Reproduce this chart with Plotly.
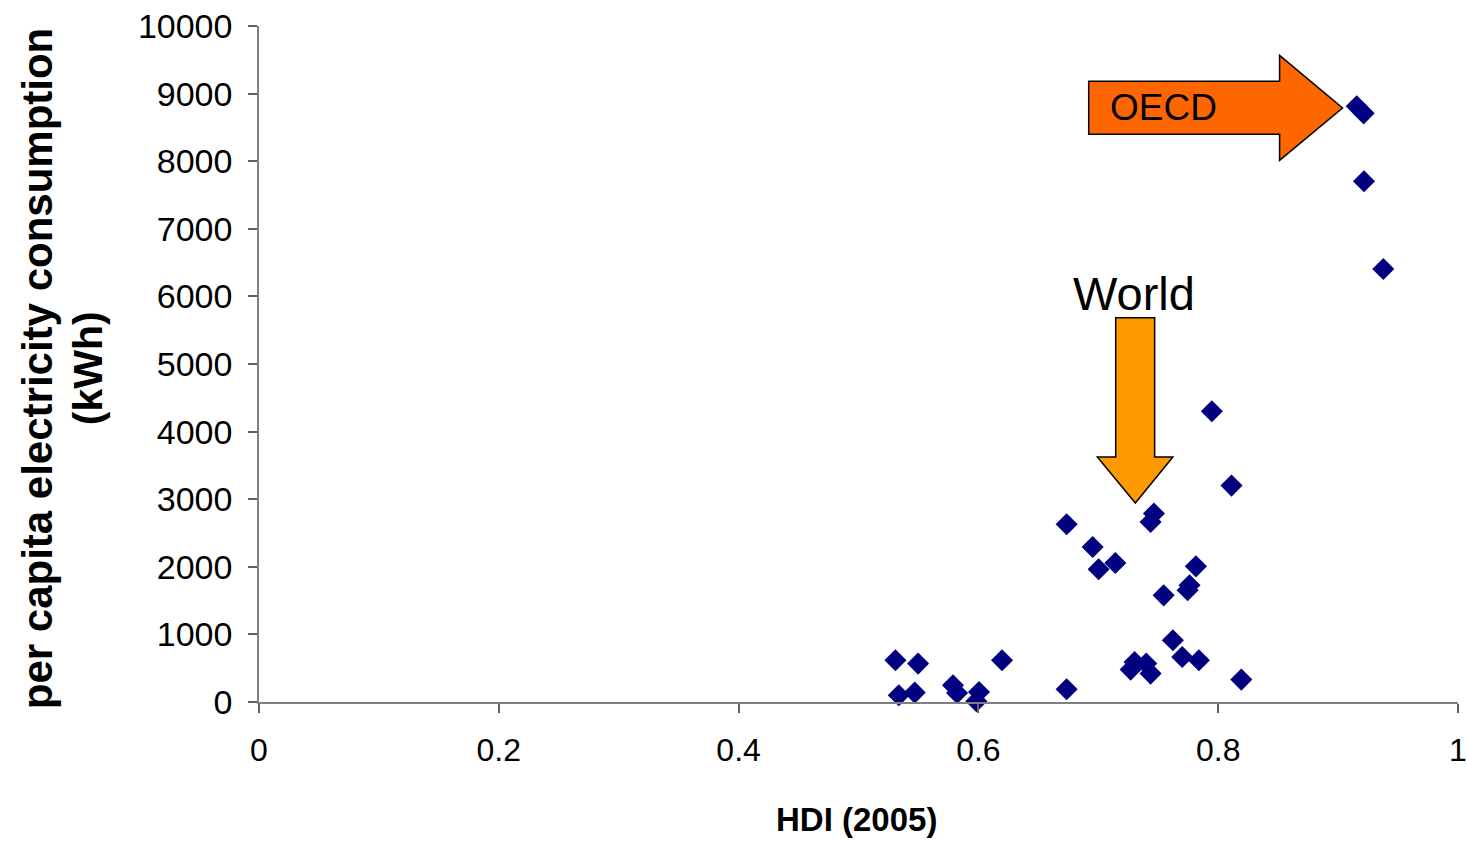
import plotly.graph_objects as go

# HDI (2005) vs per capita electricity consumption (kWh)
hdi = [0.5308, 0.5497, 0.5336, 0.5469, 0.5788, 0.5822, 0.6005, 0.5983, 0.6197,
       0.6736, 0.7303, 0.7270, 0.7400, 0.7436, 0.7622, 0.7700, 0.7839, 0.8193,
       0.7947, 0.8111, 0.7464, 0.7436, 0.6736, 0.6953, 0.7003, 0.7142, 0.7814,
       0.7761, 0.7745, 0.7545, 0.9155, 0.9213, 0.9216, 0.9377]
kwh = [617, 568, 99, 139, 247, 133, 148, 10, 617,
       188, 592, 479, 568, 420, 913, 666, 617, 331,
       4300, 3201, 2787, 2663, 2629, 2293, 1963, 2056, 2007,
       1726, 1652, 1578, 8812, 8708, 7703, 6405]

x_ticks = [0, 0.2, 0.4, 0.6, 0.8, 1]
x_tick_labels = ["0", "0.2", "0.4", "0.6", "0.8", "1"]
y_ticks = list(range(0, 10001, 1000))
y_tick_labels = [str(v) for v in y_ticks]

FONT = "Liberation Sans, Arial, sans-serif"

fig = go.Figure()
fig.add_trace(go.Scatter(
    x=hdi, y=kwh, mode="markers",
    marker=dict(symbol="diamond", size=17, color="#000080", line=dict(width=0)),
    cliponaxis=False, showlegend=False, hoverinfo="x+y"))

# OECD arrow (pointing right)
oecd_path = ("M 0.692 9182 L 0.8512 9182 L 0.8512 9566 L 0.9037 8787 "
             "L 0.8512 8013 L 0.8512 8398 L 0.692 8398 Z")
# World arrow (pointing down)
world_path = ("M 0.7145 5686 L 0.7470 5686 L 0.7470 3624 L 0.7622 3624 "
              "L 0.7309 2944 L 0.6992 3624 L 0.7145 3624 Z")

fig.update_layout(
    shapes=[
        dict(type="path", path=oecd_path, xref="x", yref="y",
             fillcolor="#FF6600", line=dict(color="black", width=1.5), layer="above"),
        dict(type="path", path=world_path, xref="x", yref="y",
             fillcolor="#FF9900", line=dict(color="black", width=1.5), layer="above"),
    ],
    annotations=[
        dict(text="OECD", x=0.754, y=8800, xref="x", yref="y", showarrow=False,
             font=dict(family=FONT, size=37, color="black"), xanchor="center", yanchor="middle"),
        dict(text="World", x=0.7295, y=6040, xref="x", yref="y", showarrow=False,
             font=dict(family=FONT, size=47, color="black"), xanchor="center", yanchor="middle"),
        dict(text="<b>HDI (2005)</b>", x=0.498, y=-0.174, xref="paper", yref="paper",
             showarrow=False, font=dict(family=FONT, size=33, color="black"),
             xanchor="center", yanchor="middle"),
        dict(text="<b>per capita electricity consumption</b>", x=-0.185, y=0.494,
             xref="paper", yref="paper", textangle=-90, showarrow=False,
             font=dict(family=FONT, size=42, color="black"),
             xanchor="center", yanchor="middle"),
        dict(text="<b>(kWh)</b>", x=-0.1425, y=0.494,
             xref="paper", yref="paper", textangle=-90, showarrow=False,
             font=dict(family=FONT, size=41, color="black"),
             xanchor="center", yanchor="middle"),
    ],
    width=1467, height=841,
    margin=dict(l=259, r=9, t=26, b=139, pad=0, autoexpand=False),
    paper_bgcolor="white", plot_bgcolor="white",
    font=dict(family=FONT, color="black"),
    xaxis=dict(range=[0, 1], tickvals=x_ticks, ticktext=x_tick_labels, automargin=False,
               showgrid=False, zeroline=False, showline=True, linecolor="#808080",
               linewidth=1.5, ticks="outside", ticklen=9, tickcolor="#606060", tickwidth=1.5,
               tickfont=dict(family=FONT, size=32, color="black"), ticklabelstandoff=10),
    yaxis=dict(range=[0, 10000], tickvals=y_ticks, ticktext=y_tick_labels, automargin=False,
               showgrid=False, zeroline=False, showline=True, linecolor="#808080",
               linewidth=1.5, ticks="outside", ticklen=9, tickcolor="#606060", tickwidth=1.5,
               tickfont=dict(family=FONT, size=34, color="black"), ticklabelstandoff=9),
)

fig.write_html("out.html")
